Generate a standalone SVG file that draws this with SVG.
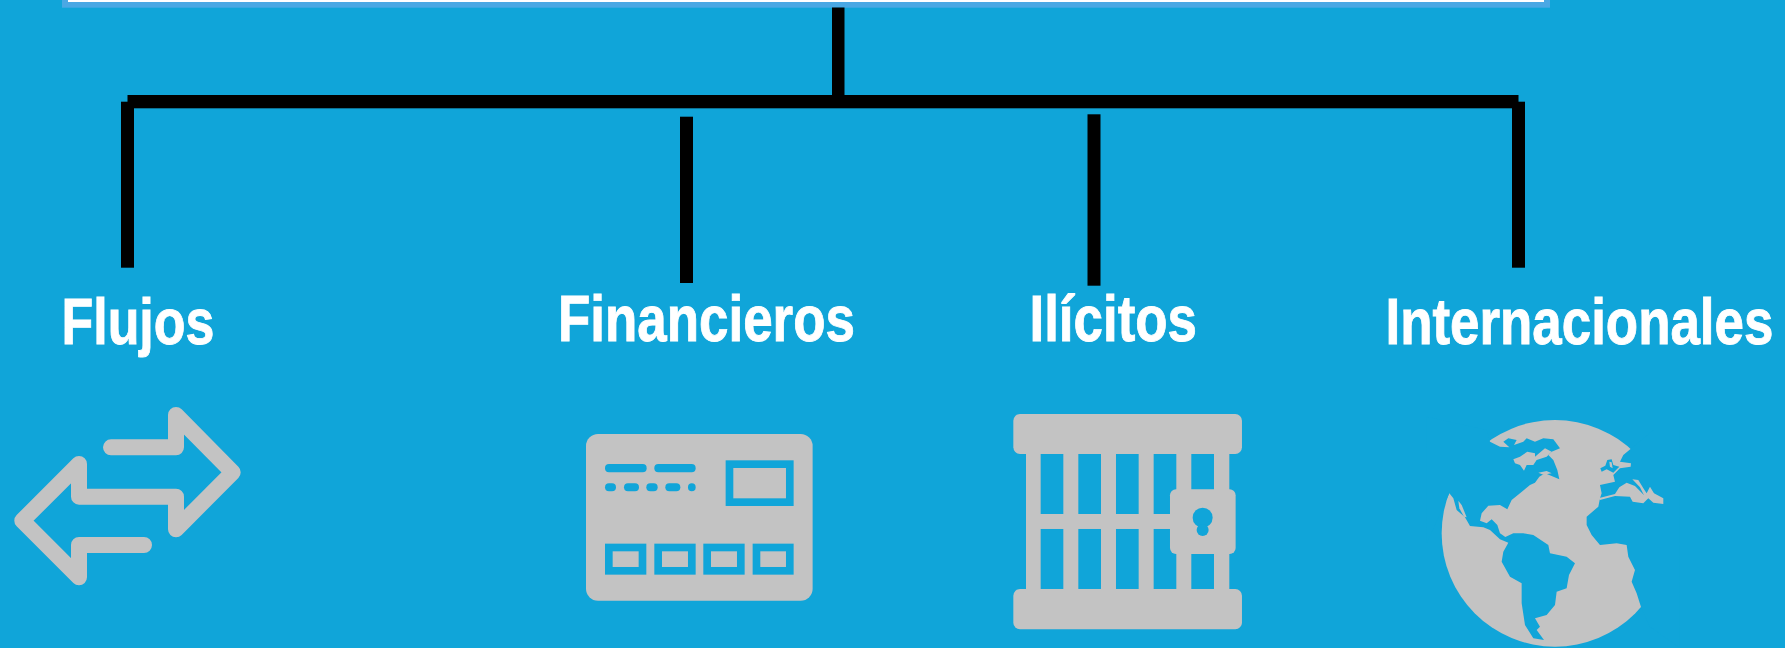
<svg xmlns="http://www.w3.org/2000/svg" width="1785" height="648" viewBox="0 0 1785 648">
<style>
.lbl{font-family:"Liberation Sans",Arial,sans-serif;font-weight:700;font-size:64px;fill:#fff;stroke:#fff;stroke-width:.9px}
.ln{fill:#000}
.g{fill:#c3c3c3}
.b{fill:#10a5d9}
.st{fill:none;stroke:#10a5d9}
</style>
<defs>
<filter id="s" x="-5%" y="-5%" width="110%" height="110%" color-interpolation-filters="sRGB"><feGaussianBlur stdDeviation="0.7"/></filter>
</defs>
<rect width="1785" height="648" class="b"/>
<g id="root-box">
<rect x="62" y="0" width="1488" height="7.700" fill="#4aa8e4"/>
<rect x="68" y="0" width="1476" height="2" fill="#fff"/>
</g>
<g id="connectors">
<rect class="ln" x="832" y="7.500" width="12.500" height="90"/>
<rect class="ln" x="127.500" y="95" width="1391" height="13.300"/>
<rect class="ln" x="121" y="101.700" width="13" height="166"/>
<rect class="ln" x="680" y="116.700" width="13" height="166.300"/>
<rect class="ln" x="1087.500" y="114.300" width="13" height="171.400"/>
<rect class="ln" x="1512" y="101.700" width="13" height="166"/>
</g>
<g id="flujos">
<text class="lbl" transform="translate(61.500 344) scale(.8117 1)">Flujos</text>
<path filter="url(#s)" fill="none" stroke="#c3c3c3" stroke-width="16" stroke-linecap="round" stroke-linejoin="round" d="M111 447.300H176V415L232.700 472.300L176 529.300V496.700H79V464L22.300 520.700L79 577.300V545H144"/>
</g>
<g id="financieros">
<text class="lbl" transform="translate(558 341) scale(.8268 1)">Financieros</text>
<g filter="url(#s)" transform="translate(570 420) scale(.3333)">
<rect class="g" x="48" y="42" width="680" height="500" rx="36"/>
<g class="b">
<rect x="105" y="132" width="125" height="25" rx="12"/>
<rect x="253" y="132" width="124" height="25" rx="12"/>
<rect x="105" y="190" width="33" height="24" rx="12"/>
<rect x="162" y="190" width="45" height="24" rx="12"/>
<rect x="229" y="190" width="34" height="24" rx="12"/>
<rect x="286" y="190" width="45" height="24" rx="12"/>
<rect x="354" y="190" width="23" height="24" rx="11.500"/>
</g>
<g class="st" stroke-width="23">
<rect x="478.500" y="132.500" width="181" height="114"/>
<rect x="116.500" y="382.500" width="101" height="70"/>
<rect x="264.500" y="382.500" width="101" height="70"/>
<rect x="411.500" y="382.500" width="101" height="70"/>
<rect x="559.500" y="382.500" width="100" height="70"/>
</g>
</g>
</g>
<g id="ilicitos">
<text class="lbl" transform="translate(1029.500 341) scale(.826 1)">Ilícitos</text>
<g filter="url(#s)" transform="translate(1000 400) scale(.3333)">
<rect class="g" x="78" y="150" width="610" height="430"/>
<rect class="g" x="40" y="42" width="686" height="120" rx="20"/>
<rect class="g" x="40" y="567" width="686" height="121" rx="20"/>
<g class="b">
<rect x="122" y="162" width="68" height="180"/>
<rect x="235" y="162" width="68" height="180"/>
<rect x="348" y="162" width="68" height="180"/>
<rect x="461" y="162" width="68" height="180"/>
<rect x="574" y="162" width="68" height="180"/>
<rect x="122" y="387" width="68" height="180"/>
<rect x="235" y="387" width="68" height="180"/>
<rect x="348" y="387" width="68" height="180"/>
<rect x="461" y="387" width="68" height="180"/>
<rect x="574" y="387" width="68" height="180"/>
</g>
<rect class="g" x="510" y="268" width="197" height="194" rx="18"/>
<g class="b">
<circle cx="608" cy="353" r="30"/>
<circle cx="608" cy="390" r="18"/>
</g>
</g>
</g>
<g id="internacionales">
<text class="lbl" transform="translate(1385.500 344) scale(.8264 1)">Internacionales</text>
<g filter="url(#s)" transform="translate(1420 410) scale(.3333)">
<circle class="g" cx="405" cy="370" r="340"/>
<path class="b" d="M20 20L200 60L210 95L240 110L268 112L250 95L265 85L290 90L282 105L310 95L320 85L345 95L370 85L400 88L420 115L395 125L385 135L400 150L412 180L418 208L395 198L375 190L358 200L345 218L330 225L300 250L275 270L262 298L240 285L205 287L185 310L180 332L200 340L215 328L232 345L240 370L256 381L280 370L310 370L340 375L385 405L390 430L440 440L465 460L447 495L440 535L410 545L405 585L380 615L345 625L360 650L350 660L372 690L340 685L315 645L305 580L305 520L270 500L245 455L250 425L265 398L240 388L210 360L190 352L150 348L135 322L110 300L100 265L88 250L20 400Z"/>
<path class="b" d="M628 120L700 60L780 60V714L690 650L665 597L650 550L635 515L645 480L625 440L620 405L590 400L540 405L515 375L500 345L500 320L535 290L540 265L545 250L540 225L585 215L580 195L600 175L632 170L633 160L600 155L610 135Z"/>
<path class="b" d="M541 175L556 167L562 150L575 148L580 165L598 170L580 188L560 178L545 185Z"/>
<g class="g">
<path d="M280 148L300 140L322 125L345 130L345 140L375 115L395 125L380 140L350 150L340 165L320 165L312 182L300 165L285 160Z"/>
<path d="M115 272L125 285L140 322L132 320L118 295Z"/>
<path d="M355 188L380 183L395 190L370 194Z"/>
<path d="M568 155L575 157L578 175L570 170Z"/>
<path d="M535 265L585 252L598 232L620 218L645 228L662 245L672 256L660 232L637 208L655 210L672 238L680 250L690 230L702 250L730 265L730 282L700 278L685 265L670 280L638 275L630 260L585 258L540 270Z"/>
</g>
</g>
</g>
</svg>
